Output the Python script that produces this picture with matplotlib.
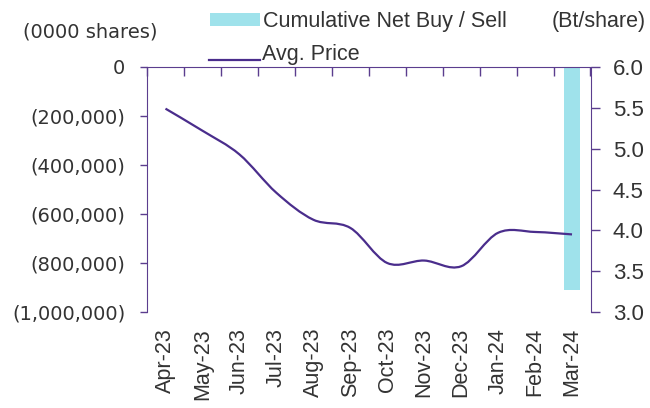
import numpy as np
import matplotlib
matplotlib.use("Agg")
import matplotlib.pyplot as plt
from matplotlib.path import Path
from matplotlib.patches import PathPatch, Rectangle
from matplotlib.lines import Line2D
from matplotlib.ticker import FuncFormatter

months = ["Apr-23", "May-23", "Jun-23", "Jul-23", "Aug-23", "Sep-23",
          "Oct-23", "Nov-23", "Dec-23", "Jan-24", "Feb-24", "Mar-24"]
net_buy_sell = [0, 0, 0, 0, 0, 0, 0, 0, 0, 0, 0, -910000]
avg_price = [5.49, 5.22, 4.93, 4.46, 4.13, 4.03, 3.60, 3.63, 3.56, 3.97, 3.98, 3.95]

BAR = "#9fe2eb"
LINE = "#4a2d8c"
SPINE = "#5b3d8e"
TXT = "#333333"
W, H = 650, 408

plt.rcParams["font.family"] = ["Liberation Sans", "DejaVu Sans"]


def smooth_path(xs, ys):
    # catmull-rom through the points, expressed as cubic bezier segments
    pts = np.column_stack([xs, ys]).astype(float)
    verts = [pts[0]]
    codes = [Path.MOVETO]
    n = len(pts)
    for i in range(n - 1):
        p0 = pts[i - 1] if i > 0 else pts[i]
        p1, p2 = pts[i], pts[i + 1]
        p3 = pts[i + 2] if i + 2 < n else pts[i + 1]
        c1 = p1 + (p2 - p0) / 6.0
        c2 = p2 - (p3 - p1) / 6.0
        verts += [c1, c2, p2]
        codes += [Path.CURVE4] * 3
    return Path(verts, codes)


def paren_fmt(v, _):
    if v == 0:
        return "0"
    return f"({abs(v):,.0f})" if v < 0 else f"{v:,.0f}"


def fx(px):
    return px / W


def fy(py):
    return 1 - py / H


fig = plt.figure(figsize=(6.5, 4.08), dpi=100)
ax = fig.add_axes([fx(147), fy(312), fx(590.5) - fx(147), fy(67) - fy(312)])
ax2 = ax.twinx()

x = np.arange(len(months))
ax.bar(x, net_buy_sell, width=0.41, color=BAR, zorder=2)
ax.set_xlim(-0.5, len(months) - 0.5)
ax.set_ylim(-1000000, 0)
ax.set_yticks(np.arange(-1000000, 1, 200000))
ax.yaxis.set_major_formatter(FuncFormatter(paren_fmt))

ax2.add_patch(PathPatch(smooth_path(x, avg_price), fill=False,
                        edgecolor=LINE, lw=1.6, zorder=3))
ax2.set_ylim(3.0, 6.0)
ax2.set_yticks(np.arange(3.0, 6.01, 0.5))
ax2.yaxis.set_major_formatter(FuncFormatter(lambda v, _: f"{v:.1f}"))

# month boundaries ticked along the zero line, labels underneath
ax.set_xticks(x)
ax.set_xticklabels(months, rotation=90, fontsize=15.5, color=TXT)
ax.set_xticks(np.arange(-0.5, len(months), 1.0), minor=True)
ax.tick_params(axis="x", which="major", length=0, bottom=False, top=False,
               labelbottom=True, pad=11.5)
ax.tick_params(axis="x", which="minor", top=True, bottom=False,
               direction="in", length=6.7, color=SPINE, width=1)

ax.tick_params(axis="y", direction="out", length=4.8, color=SPINE, width=1,
               labelcolor=TXT, pad=10.8)
for lab in ax.get_yticklabels():
    lab.set_fontfamily("DejaVu Sans")
    lab.set_fontsize(14)
ax2.tick_params(axis="y", direction="out", length=6.7, color=SPINE, width=1,
                labelsize=16, labelcolor=TXT, pad=9.4)

for name, sp in ax.spines.items():
    sp.set_color(SPINE)
ax.spines["bottom"].set_visible(False)
ax.spines["right"].set_visible(False)
for name in ["top", "bottom", "left"]:
    ax2.spines[name].set_visible(False)
ax2.spines["right"].set_color(SPINE)

fig.text(fx(23), fy(32), "(0000 shares)", fontsize=14, color=TXT,
         va="center", family="DejaVu Sans")
fig.text(fx(552), fy(22), "(Bt/share)", fontsize=15.5, color=TXT, va="center")

# legend drawn by hand in figure pixels
fig.add_artist(Rectangle((fx(210), fy(26)), fx(50), fy(13) - fy(26),
                         transform=fig.transFigure, facecolor=BAR,
                         edgecolor="none"))
fig.text(fx(263), fy(27), "Cumulative Net Buy / Sell", fontsize=15.5,
         color=TXT, va="baseline")
fig.add_artist(Line2D([fx(209), fx(260)], [fy(60), fy(60)],
                      transform=fig.transFigure, color=LINE, lw=1.6))
fig.text(fx(262), fy(60), "Avg. Price", fontsize=15.5, color=TXT,
         va="baseline")

fig.savefig("out.png", dpi=100)
